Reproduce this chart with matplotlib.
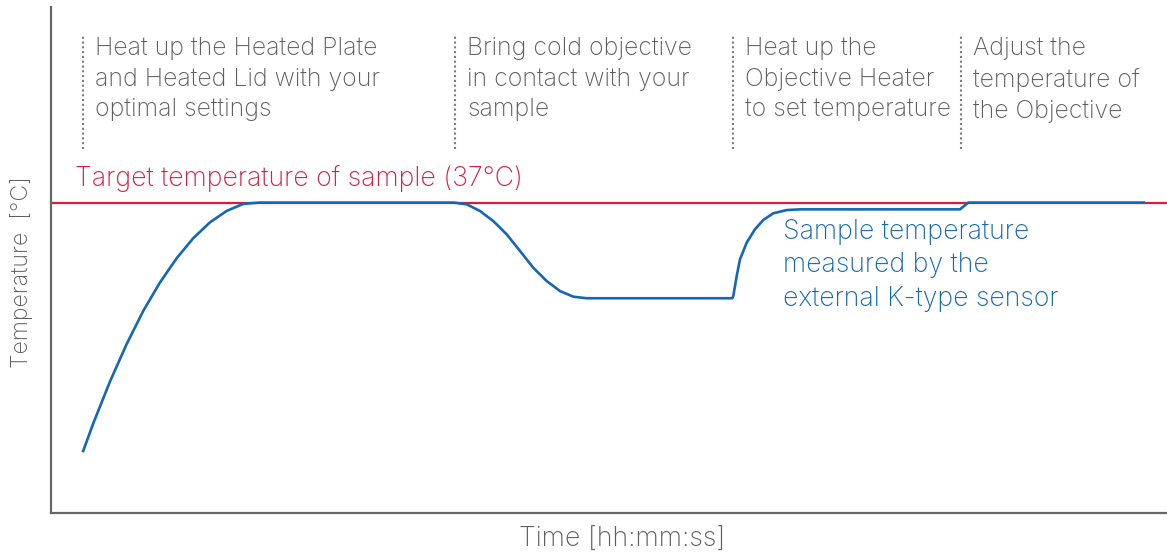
import numpy as np
import matplotlib
matplotlib.use("Agg")
import matplotlib.pyplot as plt

plt.rcParams['font.family'] = ['Inter', 'DejaVu Sans']

# sample temperature (time in arbitrary units, temp in degC)
time = [3.17, 4.23, 5.9, 7.57, 9.23, 10.9, 12.57, 14.23, 15.9, 17.57, 19.23, 20.9,
        40.23, 41.57, 42.9, 44.23, 45.57, 46.9, 48.23, 49.57, 50.9, 52.23, 53.57,
        68.13, 68.23, 68.57, 68.9, 69.57, 70.4, 71.23, 72.23, 73.57, 74.9,
        90.9, 91.73, 109.4]
temp = [19.3, 21.36, 24.32, 26.98, 29.33, 31.34, 33.06, 34.48, 35.6, 36.41, 36.91, 37.0,
        37.0, 36.88, 36.4, 35.69, 34.75, 33.57, 32.38, 31.44, 30.73, 30.33, 30.22,
        30.22, 30.38, 31.8, 32.98, 34.16, 35.11, 35.77, 36.24, 36.47, 36.52,
        36.52, 37.0, 37.0]

target = 37.0

phase_t = [3.2, 40.4, 68.2, 91.0]
phase_txt = ["Heat up the Heated Plate\nand Heated Lid with your\noptimal settings",
             "Bring cold objective\nin contact with your\nsample",
             "Heat up the\nObjective Heater\nto set temperature",
             "Adjust the\ntemperature of\nthe Objective"]

red = '#d81e3c'
blue = '#1467b5'
grey = '#5e5e5e'

W, H = 1167, 556
fig = plt.figure(figsize=(W / 100, H / 100), dpi=100)
ax = fig.add_axes([51 / W, (H - 513) / H, (W - 51) / W, (513 - 7) / H])

ax.set_xlim(0, 111.6)
ax.set_ylim(15, 15 + 506 / 14.11)

ax.axhline(target, color=red, lw=1.6, zorder=2)
ax.plot(time, temp, color=blue, lw=1.9, zorder=3, solid_capstyle='butt',
        solid_joinstyle='round')

ax.vlines(phase_t, 40.8, 48.8, colors='#7a7a7a', lw=1.5, linestyles=(0, (1, 1.3)))
for t, s in zip(phase_t, phase_txt):
    ax.text(t + 1.2, 48.75, s, color=grey, fontsize=17.9, fontweight='light',
            va='top', ha='left', linespacing=1.43)

ax.text(2.4, 38.2, "Target temperature of sample (37\u00b0C)", color=red,
        fontsize=19.2, fontweight='light', va='baseline', ha='left')
ax.text(73.2, 35.85, "Sample temperature\nmeasured by the\nexternal K-type sensor",
        color=blue, fontsize=19.2, fontweight='light', va='top', ha='left',
        linespacing=1.37)

for s in ['top', 'right']:
    ax.spines[s].set_visible(False)
for s in ['left', 'bottom']:
    ax.spines[s].set_color('#666666')
    ax.spines[s].set_linewidth(1.6)
ax.set_xticks([])
ax.set_yticks([])

fig.text(622 / W, 1 - 546.7 / H, "Time [hh:mm:ss]", color=grey, fontsize=19.3,
         fontweight='light', ha='center', va='baseline')
fig.text(22 / W, 1 - 272 / H, "Temperature  [\u00b0C]", color=grey, fontsize=16.6,
         fontweight='light', ha='center', va='center', rotation=90)

fig.savefig('out.png', dpi=100)
